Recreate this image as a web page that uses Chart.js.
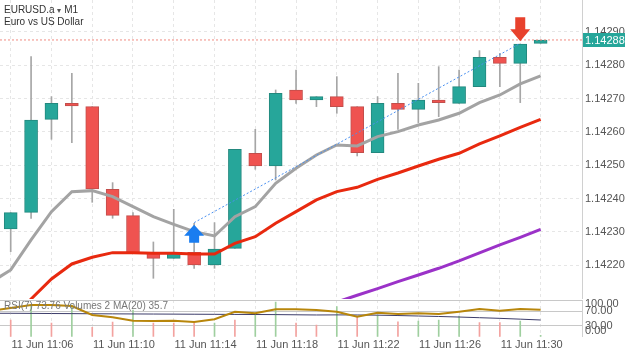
<!DOCTYPE html>
<html>
<head>
<meta charset="utf-8">
<script src="https://cdn.jsdelivr.net/npm/chart.js@4.4.0/dist/chart.umd.min.js"></script>
<style>
  html, body { margin: 0; padding: 0; background: #fff; }
  #wrap { position: relative; width: 625px; height: 352px; overflow: hidden; font-family: "Liberation Sans", Arial, sans-serif; }
  #main { position: absolute; left: 0; top: 0; }
  #sub { position: absolute; left: 0; top: 299px; }
  .title { position: absolute; left: 4px; top: 4px; font-size: 10px; line-height: 11px; color: #333; }
  .title .arr { font-size: 8px; color: #555; }
  .rsiLabel { position: absolute; left: 4px; top: 300px; font-size: 10px; color: #777; }
</style>
</head>
<body>
<div id="wrap">
  <canvas id="main" width="625" height="299"></canvas>
  <canvas id="sub" width="625" height="53"></canvas>
  <div class="title">EURUSD.a <span class="arr">&#9662;</span> M1<br>Euro vs US Dollar</div>
  <div class="rsiLabel">RSI(7) 73.76 Volumes 2 MA(20) 35.7</div>
</div>
<script>
// one-minute candles, first entry is the bar just left of the visible area
const day = '11 Jun';
const times = ['11:03', '11:04', '11:05', '11:06', '11:07', '11:08', '11:09', '11:10', '11:11', '11:12',
  '11:13', '11:14', '11:15', '11:16', '11:17', '11:18', '11:19', '11:20', '11:21', '11:22',
  '11:23', '11:24', '11:25', '11:26', '11:27', '11:28', '11:29', '11:30'];
const xLabelIdx = [3, 7, 11, 15, 19, 23, 27];

const open = [null, 1.142309, 1.142359, 1.142638, 1.142686, 1.142676, 1.142428, 1.142349, 1.142239, 1.142221,
  1.142239, 1.142201, 1.142251, 1.142536, 1.142498, 1.142726, 1.142696, 1.142706, 1.142676, 1.142538,
  1.142686, 1.142668, 1.142696, 1.142686, 1.142736, 1.142824, 1.142806, 1.142866];
const high = [null, 1.142358, 1.142826, 1.142706, 1.142776, 1.142676, 1.142448, 1.142358, 1.14227, 1.142368,
  1.142326, 1.142328, 1.142548, 1.142608, 1.142726, 1.142786, 1.142706, 1.142766, 1.142676, 1.142706,
  1.142776, 1.142746, 1.142796, 1.142786, 1.142844, 1.142836, 1.142864, 1.142876];
const low = [null, 1.142241, 1.142341, 1.142578, 1.142568, 1.142389, 1.142341, 1.142236, 1.142161, 1.142221,
  1.142191, 1.142191, 1.142251, 1.142488, 1.142456, 1.142686, 1.142676, 1.142656, 1.142528, 1.142538,
  1.142608, 1.142628, 1.142646, 1.142686, 1.142736, 1.142736, 1.142688, 1.142866];
const close = [null, 1.142358, 1.142636, 1.142686, 1.142678, 1.142429, 1.14235, 1.142236, 1.142221, 1.142239,
  1.142201, 1.142249, 1.142548, 1.142498, 1.142716, 1.142696, 1.142706, 1.142676, 1.142538, 1.142686,
  1.142668, 1.142696, 1.142688, 1.142736, 1.142824, 1.142806, 1.142864, 1.142876];

// moving averages on price
const maFast = [1.142148, 1.142186, 1.142276, 1.142361, 1.142421, 1.142424, 1.142406, 1.142376, 1.142346, 1.142323,
  1.142301, 1.142288, 1.142346, 1.142376, 1.142446, 1.142491, 1.142531, 1.142561, 1.142558, 1.142586,
  1.142601, 1.142621, 1.142636, 1.142656, 1.142688, 1.142711, 1.142744, 1.142768];
const maSlow = [1.14196, 1.14203, 1.142099, 1.142159, 1.142204, 1.142224, 1.142238, 1.142238, 1.142236, 1.142236,
  1.142234, 1.142234, 1.142266, 1.142286, 1.142326, 1.142361, 1.142396, 1.142421, 1.142434, 1.142458,
  1.142477, 1.142498, 1.142518, 1.142536, 1.142564, 1.142588, 1.142614, 1.142638];
const maLong = [null, null, null, null, null, null, null, null, null, null,
  null, null, null, null, null, 1.142048, 1.142069, 1.14209, 1.14211, 1.14213,
  1.142151, 1.142171, 1.142191, 1.142213, 1.142237, 1.142261, 1.142284, 1.142308];

// lower panel
const rsi = [70.8, 78, 86.4, 86.4, 83.7, 59.1, 52.9, 43.6, 42.8, 43.6,
  40.1, 47.4, 68.1, 63.8, 74.7, 74.7, 72.8, 68.1, 54.5, 65.4,
  61.9, 63.8, 61.9, 68.1, 75.5, 70.8, 75.5, 73.76];
const volumes = [null, 35.7, 67.7, 29.3, 67.7, 20, 31.4, 57, 29.3, 29.3,
  29.3, 29.3, 35.7, 50.6, 74.1, 29.3, 25, 64.1, 42.7, 46.4,
  32, 33.5, 35.7, 44.2, 29.9, 29.9, 33.5, 3];
const volUp = [null, 0, 1, 0, 1, 0, 0, 1, 0, 0, 0, 1, 0, 1, 1, 0, 0, 1, 0, 1, 0, 1, 1, 1, 0, 0, 1, 1];
const volMA = [50, 50, 49.8, 49.5, 49.3, 49, 48.8, 48.6, 48.4, 48.2,
  48, 47.8, 47.6, 47.4, 47.2, 46.8, 46.4, 46.6, 46.4, 46,
  45.2, 44.2, 43.2, 42, 40.6, 39.2, 37.5, 35.7];

const priceTicks = [1.1422, 1.1423, 1.1424, 1.1425, 1.1426, 1.1427, 1.1428, 1.1429];
const rsiTicks = [0, 30, 70, 100];
const lastPrice = 1.142876;
const trade = { openIdx: 10, openPrice: 1.142328, closeIdx: 26, closePrice: 1.142866 };

const GREEN = '#26a69a', RED = '#ef5350';
const xMin = 0.475, xMax = 29.03;
const yMin = 1.1420989, yMax = 1.1429959;
const volMax = 78.4;
const axisW = 43;
Chart.defaults.font.family = '"Liberation Sans", Arial, sans-serif';
Chart.defaults.font.size = 11;

const pts = arr => arr.map((v, i) => ({ x: i, y: v }));
const evenGrid = c => (c.index % 2 === 1 ? '#e6e6e6' : 'rgba(0,0,0,0)');
const candleIdx = times.map((t, i) => ({ value: i }));
// fixed axis box, no extra room for half labels at the ends
const fixRight = ax => { ax.width = axisW; ax.paddingTop = 0; ax.paddingBottom = 0; };

function drawArrow(ctx, x, tip, up, color, headH, shaftH) {
  const d = up ? 1 : -1;
  ctx.save();
  ctx.fillStyle = color;
  ctx.beginPath();
  ctx.moveTo(x, tip);
  ctx.lineTo(x + 10, tip + d * headH);
  ctx.lineTo(x + 5, tip + d * headH);
  ctx.lineTo(x + 5, tip + d * (headH + shaftH));
  ctx.lineTo(x - 5, tip + d * (headH + shaftH));
  ctx.lineTo(x - 5, tip + d * headH);
  ctx.lineTo(x - 10, tip + d * headH);
  ctx.closePath();
  ctx.fill();
  ctx.restore();
}

const tradeMarks = {
  id: 'tradeMarks',
  afterDatasetsDraw(chart) {
    const { ctx, scales: { x, y } } = chart;
    drawArrow(ctx, x.getPixelForValue(trade.openIdx), y.getPixelForValue(trade.openPrice) + 2, true, '#1a7df0', 11, 7);
    drawArrow(ctx, x.getPixelForValue(trade.closeIdx), y.getPixelForValue(trade.closePrice) - 2, false, '#e8412c', 12, 12);
  },
  afterDraw(chart) {
    const { ctx, scales: { y } } = chart;
    const py = Math.round(y.getPixelForValue(lastPrice));
    ctx.save();
    ctx.fillStyle = GREEN;
    ctx.fillRect(y.left + 1, py - 7, chart.width - y.left - 1, 14);
    ctx.fillStyle = '#fff';
    ctx.font = '11px "Liberation Sans", Arial, sans-serif';
    ctx.textBaseline = 'middle';
    ctx.fillText(lastPrice.toFixed(5), y.left + 3, py + 0.5);
    ctx.restore();
  }
};

new Chart(document.getElementById('main'), {
  type: 'bar',
  data: {
    datasets: [
      { type: 'line', data: [{ x: trade.openIdx, y: trade.openPrice }, { x: trade.closeIdx, y: trade.closePrice }],
        borderColor: '#4a90f0', borderWidth: 1, borderDash: [2, 2], pointRadius: 0, order: 0 },
      { type: 'line', data: [{ x: xMin, y: lastPrice }, { x: xMax, y: lastPrice }],
        borderColor: '#f08a80', borderWidth: 1, borderDash: [2, 2], pointRadius: 0, order: 0 },
      { type: 'line', data: pts(maFast), borderColor: '#a3a3a3', borderWidth: 3, pointRadius: 0, order: 1 },
      { type: 'line', data: pts(maSlow), borderColor: '#e8290f', borderWidth: 3, pointRadius: 0, order: 1 },
      { type: 'line', data: pts(maLong), borderColor: '#9b32c8', borderWidth: 3, pointRadius: 0, order: 1 },
      { data: open.map((o, i) => ({ x: i, y: o === null ? null : [o, close[i]] })),
        backgroundColor: open.map((o, i) => (close[i] >= o ? GREEN : RED)),
        borderColor: open.map((o, i) => (close[i] >= o ? '#23887e' : '#c24e4b')),
        borderWidth: 1, borderSkipped: false, barThickness: 13, grouped: false, order: 5 },
      { data: low.map((l, i) => ({ x: i, y: l === null ? null : [l, high[i]] })),
        backgroundColor: '#a6a6a6', barThickness: 1, grouped: false, order: 6 }
    ]
  },
  options: {
    responsive: false,
    animation: false,
    layout: { padding: 0 },
    plugins: { legend: { display: false }, tooltip: { enabled: false } },
    scales: {
      x: {
        type: 'linear', min: xMin, max: xMax, offset: false,
        afterBuildTicks: ax => { ax.ticks = candleIdx.slice(); },
        afterFit: ax => { ax.height = 0; ax.paddingLeft = 0; ax.paddingRight = 0; },
        ticks: { display: false, autoSkip: false },
        grid: { offset: false, drawTicks: false, color: evenGrid },
        border: { display: false, dash: [3, 3] }
      },
      y: {
        position: 'right', min: yMin, max: yMax,
        afterBuildTicks: ax => { ax.ticks = priceTicks.map(v => ({ value: v })); },
        afterFit: fixRight,
        ticks: { padding: 3, color: '#555', callback: v => v.toFixed(5) },
        grid: { drawTicks: false, color: '#e6e6e6' },
        border: { display: true, color: '#d0d0d0', dash: [3, 3] }
      }
    }
  },
  plugins: [tradeMarks]
});

// RSI labels are kept inside the small panel
const rsiLabels = {
  id: 'rsiLabels',
  afterDraw(chart) {
    const { ctx, scales: { y } } = chart;
    ctx.save();
    ctx.fillStyle = '#555';
    ctx.font = '11px "Liberation Sans", Arial, sans-serif';
    ctx.textBaseline = 'middle';
    rsiTicks.forEach(v => {
      const py = Math.min(Math.max(y.getPixelForValue(v), y.top + 4), y.bottom - 6);
      ctx.fillText(v.toFixed(2), y.left + 3, py);
    });
    ctx.restore();
  }
};

new Chart(document.getElementById('sub'), {
  type: 'bar',
  data: {
    datasets: [
      { type: 'line', data: pts(rsi), yAxisID: 'y', borderColor: '#b8860b', borderWidth: 2, pointRadius: 0, order: 0 },
      { type: 'line', data: pts(volMA), yAxisID: 'yv', borderColor: '#3d3d6b', borderWidth: 1, pointRadius: 0, order: 1 },
      { data: pts(volumes), yAxisID: 'yv', barThickness: 1, grouped: false, order: 2,
        backgroundColor: volUp.map(u => (u ? '#9fcf9f' : '#f3a29f')) }
    ]
  },
  options: {
    responsive: false,
    animation: false,
    layout: { padding: { top: 1 } },
    plugins: { legend: { display: false }, tooltip: { enabled: false } },
    scales: {
      x: {
        type: 'linear', min: xMin, max: xMax, offset: false,
        afterBuildTicks: ax => { ax.ticks = candleIdx.slice(); },
        afterFit: ax => { ax.height = 15.3; ax.paddingLeft = 0; ax.paddingRight = 0; },
        ticks: {
          autoSkip: false, maxRotation: 0, minRotation: 0, padding: 2, labelOffset: -9, color: '#555',
          callback: v => (xLabelIdx.includes(v) ? day + ' ' + times[v] : '')
        },
        grid: { offset: false, drawTicks: false, color: evenGrid },
        border: { display: false, dash: [3, 3] }
      },
      y: {
        position: 'right', min: 0, max: 100,
        afterBuildTicks: ax => { ax.ticks = rsiTicks.map(v => ({ value: v })); },
        afterFit: fixRight,
        ticks: { display: false },
        grid: { drawTicks: false, color: c => (c.tick && c.tick.value === 0 ? 'rgba(0,0,0,0)' : '#c8c8c8') },
        border: { display: true, color: '#d0d0d0' }
      },
      yv: { display: false, min: 0, max: volMax }
    }
  },
  plugins: [rsiLabels]
});
</script>
</body>
</html>
